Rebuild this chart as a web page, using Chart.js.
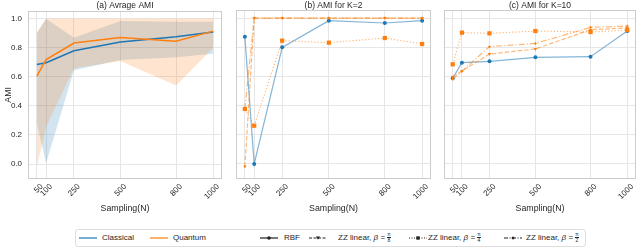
<!DOCTYPE html>
<html>
<head>
<meta charset="utf-8">
<script src="https://cdn.jsdelivr.net/npm/chart.js@4.4.0/dist/chart.umd.min.js"></script>
<style>
  body { margin: 0; width: 640px; height: 248px; background: #fff; position: relative; overflow: hidden;
         font-family: "Liberation Sans", Arial, sans-serif; color: #262626; }
  canvas { position: absolute; top: 0; }
  #legend { position: absolute; left: 75px; top: 229px; width: 511px; height: 18px;
            border: 1px solid #dedede; border-radius: 3px; box-sizing: border-box; }
  .lg { position: absolute; top: 0; height: 16px; line-height: 16px; font-size: 8px; white-space: nowrap; color: #262626; }
  .frac { display: inline-block; vertical-align: middle; font-size: 5px; line-height: 5px; text-align: center; }
  .frac span { display: block; }
  .frac span:first-child { border-bottom: 0.5px solid #262626; }
</style>
</head>
<body>
<canvas id="chartA" width="226" height="216" style="left:0px"></canvas>
<canvas id="chartB" width="204" height="216" style="left:232px"></canvas>
<canvas id="chartC" width="200" height="216" style="left:440px"></canvas>
<div id="legend"></div>
<script>
// Dados
const samplingN = [50, 100, 250, 500, 800, 1000];
const xTicks = [50, 100, 250, 500, 800, 1000];
const yTicks = [0.0, 0.2, 0.4, 0.6, 0.8, 1.0];

// (a) media e faixa
const classicalMean  = [0.685, 0.697, 0.780, 0.840, 0.877, 0.909];
const classicalUpper = [0.900, 1.000, 0.870, 0.985, 0.980, 0.980];
const classicalLower = [0.280, 0.005, 0.645, 0.717, 0.735, 0.760];
const quantumMean    = [0.605, 0.719, 0.833, 0.872, 0.845, 0.915];
const quantumUpper   = [0.906, 1.000, 1.000, 1.000, 1.000, 1.000];
const quantumLower   = [-0.018, 0.255, 0.660, 0.710, 0.540, 0.800];

// (b) K=2
const k2Rbf = [0.872, 0.000, 0.799, 0.982, 0.966, 0.982];
const k2Pi8 = [-0.018, 1.000, 1.000, 1.000, 1.000, 1.000];
const k2Pi4 = [0.377, 0.262, 0.845, 0.831, 0.863, 0.822];
const k2Pi2 = [0.377, 1.000, 1.000, 1.000, 1.000, 1.000];

// (c) K=10
const k10Rbf = [0.587, 0.694, 0.703, 0.731, 0.735, 0.911];
const k10Pi8 = [0.598, 0.637, 0.753, 0.788, 0.920, 0.932];
const k10Pi4 = [0.683, 0.900, 0.895, 0.911, 0.904, 0.918];
const k10Pi2 = [0.580, 0.636, 0.804, 0.826, 0.936, 0.945];

const BLUE = '#1f77b4', ORANGE = '#ff7f0e';
const FONT = '"Liberation Sans", Arial, sans-serif';
const TEXT = '#262626';
const pts = arr => arr.map((v, i) => ({ x: samplingN[i], y: v }));

// moldura + titulo do painel
const panelFrame = {
    id: 'panelFrame',
    afterDraw(chart, args, opts) {
        const { ctx, chartArea: a } = chart;
        ctx.save();
        ctx.strokeStyle = '#cccccc';
        ctx.lineWidth = 1;
        ctx.strokeRect(Math.round(a.left) + 0.5, Math.round(a.top) + 0.5,
                       Math.round(a.width) - 1, Math.round(a.height) - 1);
        ctx.fillStyle = TEXT;
        ctx.font = '8.5px ' + FONT;
        ctx.textAlign = 'center';
        ctx.textBaseline = 'middle';
        ctx.fillText(opts.text, (a.left + a.right) / 2, 5.5);
        ctx.restore();
    }
};

function makeOptions(title, showY, pad) {
    return {
        responsive: false,
        animation: false,
        devicePixelRatio: 1,
        layout: { padding: pad },
        plugins: { legend: { display: false }, tooltip: { enabled: false }, panelFrame: { text: title } },
        scales: {
            x: {
                type: 'linear', min: 2.5, max: 1047.5,
                afterBuildTicks: s => { s.ticks = xTicks.map(v => ({ value: v })); },
                afterFit: s => { s.height = 37; },
                grid: { color: '#e6e6e6', drawTicks: false },
                border: { display: false },
                ticks: { autoSkip: false, minRotation: 45, maxRotation: 45, padding: 3, labelOffset: 5,
                         color: TEXT, font: { family: FONT, size: 8 }, callback: v => String(v) },
                title: { display: true, text: 'Sampling(N)', color: TEXT, padding: { top: 0, bottom: 2 },
                         font: { family: FONT, size: 8.8 } }
            },
            y: {
                min: -0.103, max: 1.055,
                afterBuildTicks: s => { s.ticks = yTicks.map(v => ({ value: v })); },
                afterFit: s => { s.width = showY ? 28 : 0; },
                grid: { color: '#e6e6e6', drawTicks: false },
                border: { display: false },
                ticks: { display: showY, padding: 6, color: TEXT, font: { family: FONT, size: 8 },
                         callback: v => v.toFixed(1) },
                title: { display: showY, text: 'AMI', color: TEXT, padding: { top: 3, bottom: 0 },
                         font: { family: FONT, size: 8.8 } }
            }
        }
    };
}

function band(data, color) {
    return { data: pts(data), borderWidth: 0, pointRadius: 0, backgroundColor: color };
}

// (a) Avrage AMI
new Chart(document.getElementById('chartA'), {
    type: 'line',
    data: {
        datasets: [
            { data: pts(quantumMean), borderColor: ORANGE, borderWidth: 1.5, pointRadius: 0, fill: false },
            { data: pts(classicalMean), borderColor: BLUE, borderWidth: 1.5, pointRadius: 0, fill: false },
            Object.assign(band(quantumUpper, 'rgba(255,127,14,0.2)'), { fill: '+1' }),
            Object.assign(band(quantumLower, 'rgba(255,127,14,0.2)'), { fill: false }),
            Object.assign(band(classicalUpper, 'rgba(31,119,180,0.2)'), { fill: '+1' }),
            Object.assign(band(classicalLower, 'rgba(31,119,180,0.2)'), { fill: false })
        ]
    },
    options: makeOptions('(a) Avrage AMI', true, { left: 0, right: 4, top: 10, bottom: 0 }),
    plugins: [panelFrame]
});

function kernelSets(rbf, pi8, pi4, pi2) {
    const oLine = 'rgba(255,127,14,0.55)';
    return [
        { data: pts(pi2), borderColor: oLine, borderWidth: 1.2, borderDash: [6, 2, 1.2, 2],
          pointStyle: 'rectRot', pointRadius: 1.5, pointBackgroundColor: ORANGE, pointBorderWidth: 0 },
        { data: pts(pi4), borderColor: oLine, borderWidth: 1.2, borderDash: [1.2, 2],
          pointStyle: 'rect', pointRadius: 3, pointBackgroundColor: ORANGE, pointBorderWidth: 0 },
        { data: pts(pi8), borderColor: oLine, borderWidth: 1.2, borderDash: [4.5, 2],
          pointStyle: 'triangle', pointRotation: 180, pointRadius: 2, pointBackgroundColor: ORANGE, pointBorderWidth: 0 },
        { data: pts(rbf), borderColor: 'rgba(31,119,180,0.55)', borderWidth: 1.2,
          pointStyle: 'circle', pointRadius: 2, pointBackgroundColor: BLUE, pointBorderWidth: 0 }
    ];
}

// (b) AMI for K=2
new Chart(document.getElementById('chartB'), {
    type: 'line',
    data: { datasets: kernelSets(k2Rbf, k2Pi8, k2Pi4, k2Pi2) },
    options: makeOptions('(b) AMI for K=2', false, { left: 4, right: 5, top: 10, bottom: 0 }),
    plugins: [panelFrame]
});

// (c) AMI for K=10
new Chart(document.getElementById('chartC'), {
    type: 'line',
    data: { datasets: kernelSets(k10Rbf, k10Pi8, k10Pi4, k10Pi2) },
    options: makeOptions('(c) AMI for K=10', false, { left: 4, right: 1, top: 10, bottom: 0 }),
    plugins: [panelFrame]
});

// Legenda
const beta = f => `ZZ linear, <i>β</i> = <span class="frac"><span>π</span><span>${f}</span></span>`;
const legendItems = [
    { hx: 3,   tx: 26,  line: BLUE,   dash: '',        marker: '',     label: 'Classical' },
    { hx: 74,  tx: 97,  line: ORANGE, dash: '',        marker: '',     label: 'Quantum' },
    { hx: 184, tx: 208, line: '#222', dash: '',        marker: 'circle', label: 'RBF' },
    { hx: 233, tx: 262, line: '#222', dash: '3 1.5',   marker: 'tri',  label: beta(8) },
    { hx: 333, tx: 352, line: '#222', dash: '1 1.5',   marker: 'rect', label: beta(4) },
    { hx: 428, tx: 450, line: '#222', dash: '4 1.5 1 1.5', marker: 'dia', label: beta(2) }
];
const markerSvg = m => {
    if (m === 'circle') return '<circle cx="9" cy="4" r="1.8" fill="#222"/>';
    if (m === 'tri') return '<path d="M7 2.5 L11 2.5 L9 5.8 Z" fill="#222"/>';
    if (m === 'rect') return '<rect x="7.3" y="2.3" width="3.4" height="3.4" fill="#222"/>';
    if (m === 'dia') return '<path d="M9 2.3 L10.6 4 L9 5.7 L7.4 4 Z" fill="#222"/>';
    return '';
};
document.getElementById('legend').innerHTML = legendItems.map(it =>
    `<svg width="18" height="8" style="left:${it.hx}px;position:absolute;top:4px">` +
    `<line x1="0" y1="4" x2="18" y2="4" stroke="${it.line}" stroke-width="1.2"` +
    (it.dash ? ` stroke-dasharray="${it.dash}"` : '') + `/>${markerSvg(it.marker)}</svg>` +
    `<div class="lg" style="left:${it.tx}px">${it.label}</div>`
).join('');
</script>
</body>
</html>
